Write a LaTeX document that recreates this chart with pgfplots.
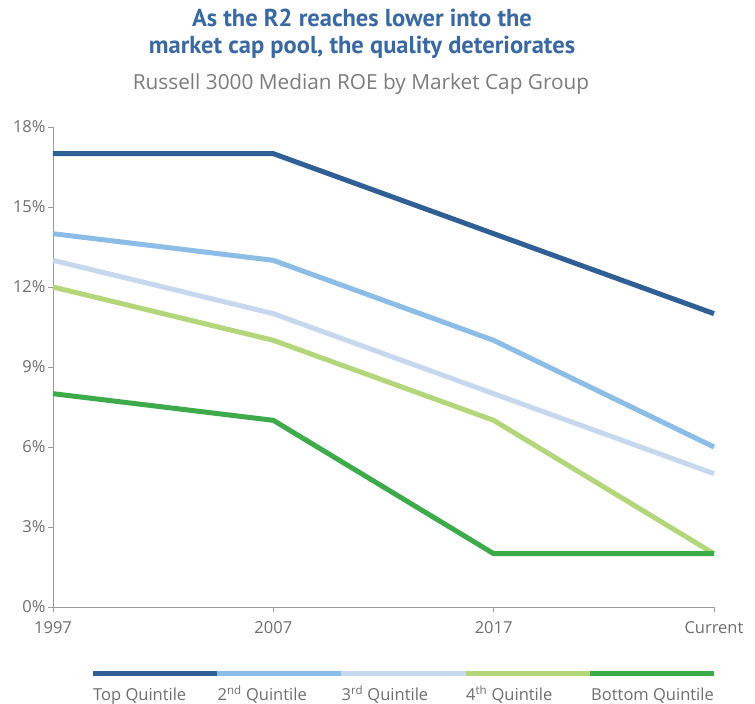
\documentclass[border=0pt]{standalone}
\usepackage{pgfplots}
\pgfplotsset{compat=1.18}
\usepackage{fontspec}
\setmainfont{Open Sans}
\newfontfamily\titlefont{PT Sans}
\definecolor{ctop}{HTML}{2F5F95}
\definecolor{csec}{HTML}{8BBDE7}
\definecolor{cthr}{HTML}{C6D7EE}
\definecolor{cfou}{HTML}{B4D67B}
\definecolor{cbot}{HTML}{3DAB4A}
\definecolor{ctitle}{HTML}{3A68A1}
\definecolor{ctext}{HTML}{6E6E6E}
\definecolor{caxis}{HTML}{9A9A9A}
\begin{document}
\begin{tikzpicture}[x=1pt,y=1pt]
\path[use as bounding box] (0,0) rectangle (755,704);
\node[font=\titlefont\bfseries\fontsize{24.5}{27}\selectfont, text=ctitle, align=center] at (362,670) {As the R2 reaches lower into the\\market cap pool, the quality deteriorates};
\node[font=\fontsize{20.8}{24}\selectfont, text=ctext!90] at (361,620) {Russell 3000 Median ROE by Market Cap Group};
\begin{axis}[
  at={(53pt,97pt)}, anchor=south west,
  scale only axis, width=661pt, height=480pt,
  xmin=0, xmax=3, ymin=0, ymax=18,
  axis lines*=left,
  axis line style={caxis, line width=0.8pt},
  tick style={caxis, line width=0.8pt},
  tick align=outside,
  major tick length=5pt,
  xtick={0,1,2,3},
  xticklabels={1997,2007,2017,Current},
  ytick={0,3,6,9,12,15,18},
  yticklabels={0\%,3\%,6\%,9\%,12\%,15\%,18\%},
  ticklabel style={font=\fontsize{16.5}{19}\selectfont, text=ctext},
  yticklabel style={xshift=1pt},
  xticklabel style={yshift=-6pt},
  clip=false,
  every axis plot/.append style={line width=5pt},
]
\addplot[ctop] coordinates {(0,17) (1,17) (2,14) (3,11)};
\addplot[csec] coordinates {(0,14) (1,13) (2,10) (3,6)};
\addplot[cthr] coordinates {(0,13) (1,11) (2,8) (3,5)};
\addplot[cfou] coordinates {(0,12) (1,10) (2,7) (3,2)};
\addplot[cbot] coordinates {(0,8) (1,7) (2,2) (3,2)};
\end{axis}
% legend
\foreach \c [count=\i from 0] in {ctop,csec,cthr,cfou,cbot} {
  \draw[\c, line width=5pt] ({93+\i*124.2},30) -- ({93+(\i+1)*124.2},30);
}
\begin{scope}[every node/.style={anchor=base west, font=\fontsize{16.5}{19}\selectfont, text=ctext, inner sep=0pt}]
\node at (93,3) {Top Quintile};
\node at (217.5,3) {2\textsuperscript{nd} Quintile};
\node at (341.5,3) {3\textsuperscript{rd} Quintile};
\node at (466,3) {4\textsuperscript{th} Quintile};
\node at (591,3) {Bottom Quintile};
\end{scope}
\end{tikzpicture}
\end{document}
